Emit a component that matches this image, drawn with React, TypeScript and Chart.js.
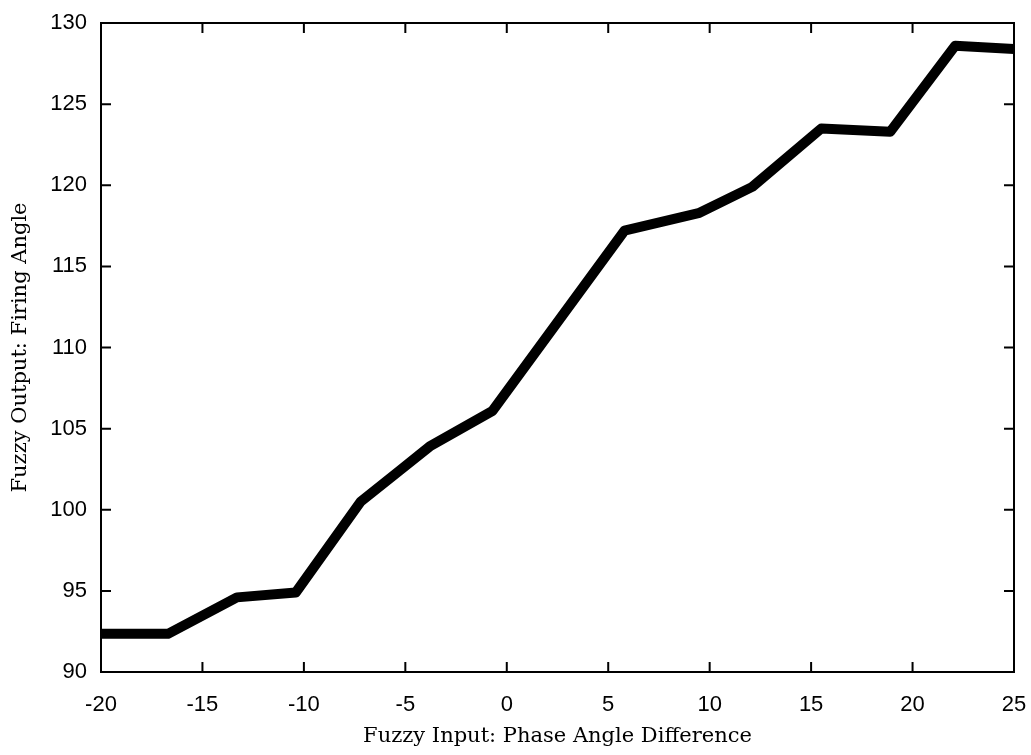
import React, { useEffect, useRef } from "react";
import { Chart, registerables } from "chart.js";

Chart.register(...registerables);

const phaseDiff = [-20, -16.7, -13.3, -10.4, -7.2, -5.3, -3.8, -0.7, 5.8, 9.5, 12.1, 15.5, 18.9, 22.1, 25];
const firingAngle = [92.35, 92.35, 94.6, 94.9, 100.5, 102.4, 103.9, 106.1, 117.2, 118.3, 119.9, 123.5, 123.3, 128.6, 128.4];
const xTicks = [-20, -15, -10, -5, 0, 5, 10, 15, 20, 25];
const yTicks = [90, 95, 100, 105, 110, 115, 120, 125, 130];
const xTitle = "Fuzzy Input: Phase Angle Difference";
const yTitle = "Fuzzy Output: Firing Angle";

const framePlugin = {
  id: "matlabFrame",
  afterDatasetsDraw(chart: any) {
    const { ctx, chartArea } = chart;
    const { left, right, top, bottom } = chartArea;
    const xs = chart.scales.x;
    const ys = chart.scales.y;
    ctx.save();
    ctx.strokeStyle = "#000";
    ctx.lineWidth = 2;
    ctx.strokeRect(left, top, right - left, bottom - top);
    const tl = 10;
    ctx.beginPath();
    xTicks.forEach((v) => {
      const px = xs.getPixelForValue(v);
      ctx.moveTo(px, bottom);
      ctx.lineTo(px, bottom - tl);
      ctx.moveTo(px, top);
      ctx.lineTo(px, top + tl);
    });
    yTicks.forEach((v) => {
      const py = ys.getPixelForValue(v);
      ctx.moveTo(left, py);
      ctx.lineTo(left + tl, py);
      ctx.moveTo(right, py);
      ctx.lineTo(right - tl, py);
    });
    ctx.stroke();
    ctx.restore();
  },
};

export default function App() {
  const ref = useRef<HTMLCanvasElement | null>(null);
  useEffect(() => {
    document.body.style.margin = "0";
    const canvas = ref.current;
    if (!canvas) return;
    const chart = new Chart(canvas, {
      type: "line",
      data: {
        datasets: [
          {
            data: phaseDiff.map((x, i) => ({ x, y: firingAngle[i] })),
            borderColor: "#000",
            borderWidth: 10,
            pointRadius: 0,
            tension: 0,
            borderJoinStyle: "round",
            borderCapStyle: "butt",
          },
        ],
      },
      options: {
        animation: false,
        responsive: false,
        maintainAspectRatio: false,
        layout: { padding: { left: 0, top: 23, right: 17, bottom: 0 } },
        plugins: { legend: { display: false }, tooltip: { enabled: false } },
        scales: {
          x: {
            type: "linear",
            min: -20,
            max: 25,
            afterBuildTicks: (s: any) => {
              s.ticks = xTicks.map((v) => ({ value: v }));
            },
            afterFit: (s: any) => {
              s.height = 83;
              s.paddingLeft = 0;
              s.paddingRight = 0;
            },
            grid: { display: false },
            border: { display: false },
            ticks: {
              color: "#000",
              padding: 12,
              maxRotation: 0,
              autoSkip: false,
              font: { family: "'Liberation Sans', Arial, sans-serif", size: 22 },
            },
            title: {
              display: true,
              text: xTitle,
              color: "#000",
              padding: { top: 4, bottom: 6 },
              font: { family: "'DejaVu Serif', 'Liberation Serif', serif", size: 21 },
            },
          },
          y: {
            type: "linear",
            min: 90,
            max: 130,
            afterBuildTicks: (s: any) => {
              s.ticks = yTicks.map((v) => ({ value: v }));
            },
            afterFit: (s: any) => {
              s.width = 101;
              s.paddingTop = 0;
              s.paddingBottom = 0;
            },
            grid: { display: false },
            border: { display: false },
            ticks: {
              color: "#000",
              padding: 6,
              autoSkip: false,
              font: { family: "'Liberation Sans', Arial, sans-serif", size: 22 },
            },
            title: {
              display: true,
              text: yTitle,
              color: "#000",
              padding: { top: 8, bottom: 2 },
              font: { family: "'DejaVu Serif', 'Liberation Serif', serif", size: 21 },
            },
          },
        },
      },
      plugins: [framePlugin],
    } as any);
    return () => chart.destroy();
  }, []);
  return (
    <div style={{ width: 1031, height: 755, position: "relative", background: "#fff" }}>
      <canvas ref={ref} width={1031} height={755} style={{ display: "block" }} />
    </div>
  );
}
